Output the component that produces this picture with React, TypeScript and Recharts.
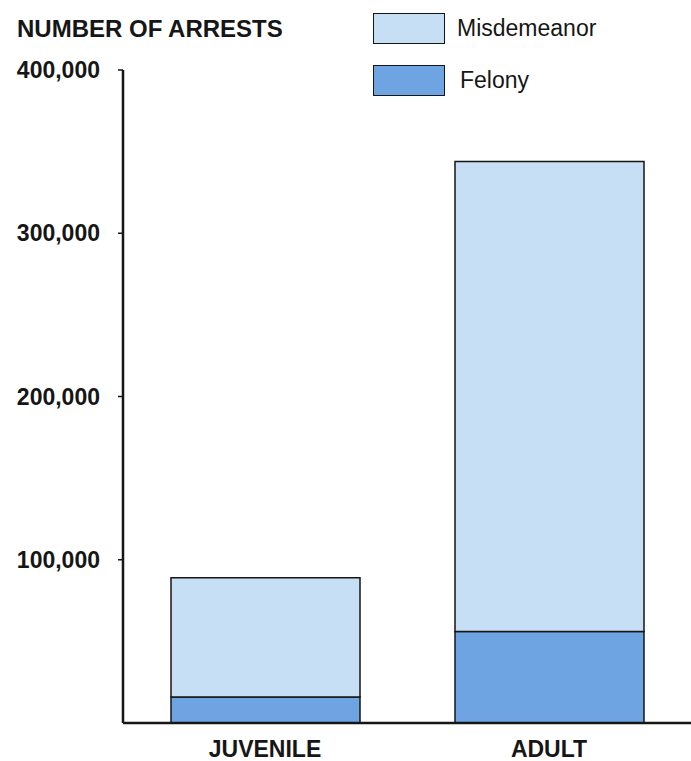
import React from "react";
import { Bar, BarChart, Legend, XAxis, YAxis } from "recharts";

const categories = ["JUVENILE", "ADULT"];
const felony = [16000, 56000];
const misdemeanor = [73000, 288000];
const yTicks = [100000, 200000, 300000, 400000];

const FONT = "'Liberation Sans', Arial, Helvetica, sans-serif";
const INK = "#161616";
const LIGHT = "#c6dff4";
const DARK = "#6fa4e2";

const data = categories.map((name, i) => ({
    name,
    felony: felony[i],
    misdemeanor: misdemeanor[i]
}));

const legendItems = [
    { label: "Misdemeanor", color: LIGHT },
    { label: "Felony", color: DARK }
];

function LegendBox() {
    return (
      <div style={{ fontFamily: FONT }}>
          {legendItems.map(( item, i ) => (
            <div key={item.label} style={{ display: "flex", alignItems: "center", height: 31, marginBottom: i === 0 ? 21 : 0 }}>
                <div style={{ width: 70, height: 29, background: item.color, border: `1.5px solid ${INK}` }}/>
                <span style={{ marginLeft: 12 + i * 3, fontSize: 23, color: INK }}>{item.label}</span>
            </div>
          ))}
      </div>
    );
}

export default function App() {
    return (
      <div style={{ position: "absolute", left: 0, top: 0, width: 691, height: 761, background: "#fff" }}>
          <div style={{
              position: "absolute", left: 17, top: 17, fontFamily: FONT, fontWeight: "bold",
              fontSize: 24, lineHeight: "24px", color: INK, whiteSpace: "nowrap"
          }}>
              NUMBER OF ARRESTS
          </div>
          <BarChart width={691} height={761} data={data} margin={{ top: 70, right: 0, bottom: 0, left: 0 }}>
              <XAxis
                dataKey="name"
                height={38}
                tickLine={false}
                tickMargin={12}
                axisLine={{ stroke: INK, strokeWidth: 2.5 }}
                tick={{ fill: INK, fontSize: 23, fontWeight: "bold", fontFamily: FONT }}
              />
              <YAxis
                width={123}
                domain={[0, 400000]}
                ticks={yTicks}
                interval={0}
                tickSize={5}
                tickMargin={18}
                tickFormatter={( v ) => v.toLocaleString("en-US")}
                axisLine={{ stroke: INK, strokeWidth: 2.5 }}
                tickLine={{ stroke: INK, strokeWidth: 1.5 }}
                tick={{ fill: INK, fontSize: 23, fontWeight: "bold", fontFamily: FONT }}
              />
              <Legend
                layout="vertical"
                align="center"
                verticalAlign="middle"
                content={<LegendBox/>}
                wrapperStyle={{ position: "absolute", left: 373, top: 13, width: 260 }}
              />
              <Bar dataKey="felony" name="Felony" stackId="a" barSize={189} fill={DARK} stroke={INK} strokeWidth={1.5} isAnimationActive={false}/>
              <Bar dataKey="misdemeanor" name="Misdemeanor" stackId="a" barSize={189} fill={LIGHT} stroke={INK} strokeWidth={1.5} isAnimationActive={false}/>
          </BarChart>
      </div>
    );
}
